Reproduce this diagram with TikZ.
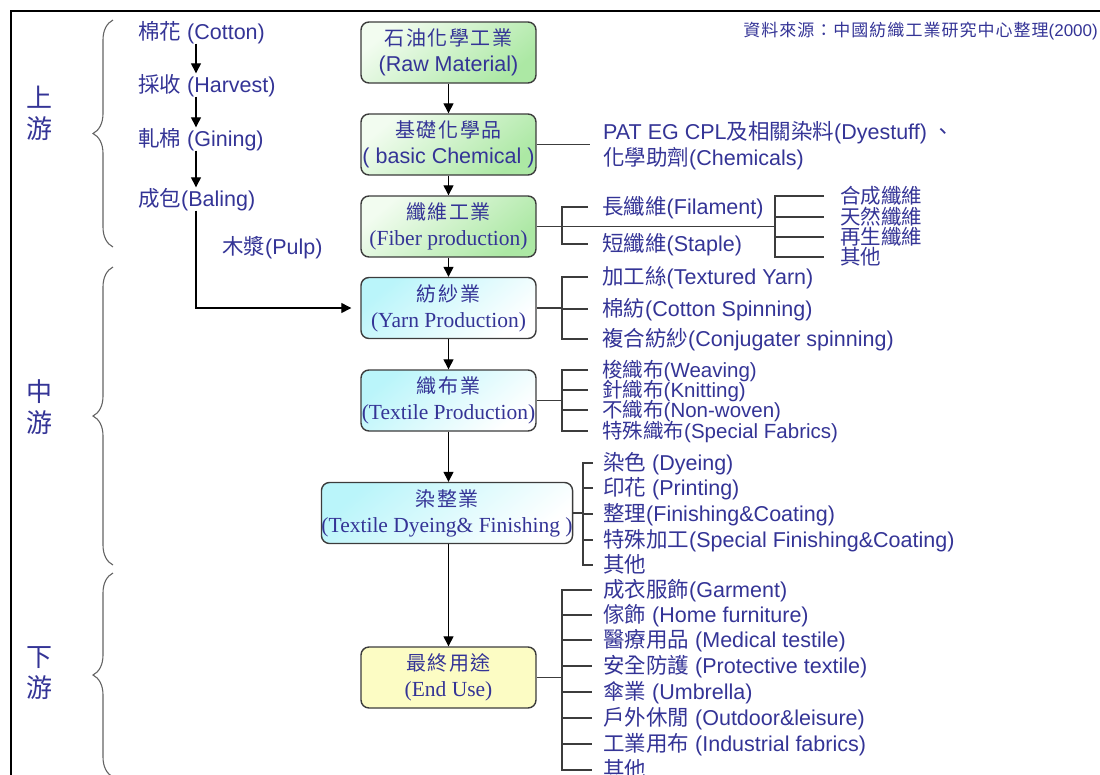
\documentclass[tikz,border=0pt]{standalone}
\usepackage{fontspec}
\setmainfont{Liberation Sans}
\newfontfamily\cjk{Noto Sans CJK TC}
\newfontfamily\cjkwide[LetterSpace=8]{Noto Sans CJK TC}
\newfontfamily\cjknote[LetterSpace=6]{Noto Sans CJK TC}
\newfontfamily\serifen{Liberation Serif}
\usetikzlibrary{arrows.meta,decorations.pathreplacing,calc}

\definecolor{ink}{RGB}{52,52,150}
\definecolor{wirecol}{RGB}{60,60,60}
\definecolor{bracecol}{RGB}{100,100,100}
\definecolor{greenlo}{RGB}{172,232,164}
\definecolor{greenhi}{RGB}{242,252,240}
\definecolor{cyanhi}{RGB}{186,245,250}
\definecolor{yellowfill}{RGB}{252,252,196}

\newcommand\zh[1]{{\cjk #1}}
\newcommand\zhw[1]{{\cjkwide\fontsize{20}{26}\selectfont #1}}

\begin{document}
\begin{tikzpicture}[x=1pt,y=-1pt,
  every node/.style={text=ink, inner sep=0pt, font=\fontsize{21.5}{26}\selectfont},
  item/.style={anchor=west, text height=19pt, text depth=4pt},
  tight/.style={anchor=west, text height=16.5pt, text depth=1.5pt, font=\fontsize{20.5}{24}\selectfont},
  stage/.style={draw=wirecol, line width=1.4pt, rounded corners=8pt,
    minimum width=175pt, minimum height=61pt, align=center},
  greenbox/.style={stage, top color=greenhi, bottom color=greenlo, shading angle=40},
  cyanbox/.style={stage, top color=cyanhi, bottom color=white, shading angle=40},
  yellowbox/.style={stage, fill=yellowfill},
  arr/.style={draw=black, line width=1.3pt, -{Triangle[width=10pt,length=10pt]}},
  link/.style={draw=wirecol, line width=1.3pt},
  bracebar/.style={draw=bracecol, line width=1.1pt, decorate,
    decoration={brace, amplitude=20pt}},
  stagelabel/.style={align=center, font=\cjk\fontsize{26}{31}\selectfont},
]
\useasboundingbox (0,0) rectangle (1100,774);

% frame
\draw[line width=2.4pt, line cap=rect] (11,774) -- (11,11) -- (1100,11);

% source note
\node[anchor=east, font=\fontsize{17}{20}\selectfont] (source) at (1098,31)
  {{\cjknote 資料來源：中國紡織工業研究中心整理}(2000)};

% stage braces and labels
\draw[bracebar] (113,247) -- (113,20);
\draw[bracebar] (113,565) -- (113,267);
\draw[bracebar] (113,777) -- (113,573);
\node[stagelabel] (up)   at (39,113) {上\\游};
\node[stagelabel] (mid)  at (40,407) {中\\游};
\node[stagelabel] (down) at (40,673) {下\\游};

% cotton chain
\coordinate (ax) at (196,0);
\node[item] (cotton)  at (138,32)  {\zh{棉花} (Cotton)};
\node[item] (harvest) at (138,85)  {\zh{採收} (Harvest)};
\node[item] (gin)     at (138,139) {\zh{軋棉} (Gining)};
\node[item] (bale)    at (138,199) {\zh{成包}(Baling)};
\node[item] (pulp)    at (222,247) {\zh{木漿}(Pulp)};

% main chain
\node[greenbox] (raw)   at (448.5,52.5)  {\zhw{石油化學工業}\\(Raw Material)};
\node[greenbox] (chem)  at (448.5,144.5) {\zhw{基礎化學品}\\( basic Chemical )};
\node[greenbox] (fiber) at (448.5,226.5) {\zhw{纖維工業}\\{\serifen (Fiber production)}};
\node[cyanbox]  (yarn)  at (448.5,308)   {\zhw{紡紗業}\\{\serifen (Yarn Production)}};
\node[cyanbox]  (weave) at (448.5,400.5) {\zhw{織布業}\\{\serifen (Textile Production)}};
\node[cyanbox, minimum width=248pt] (dye) at (447,513)
  {\zhw{染整業}\\{\serifen (Textile Dyeing\& Finishing )}};
\node[yellowbox] (enduse) at (448.5,677.5) {\zhw{最終用途}\\{\serifen (End Use)}};

\draw[arr] (cotton.south -| ax) -- (harvest.north -| ax);
\draw[arr] (harvest.south -| ax) -- (gin.north -| ax);
\draw[arr] (gin.south -| ax) -- (bale.north -| ax);
\draw[arr, shorten >=9pt] (bale.south -| ax) |- (yarn.west);

\draw[arr] (raw) -- (chem);
\draw[arr] (chem) -- (fiber);
\draw[arr] (fiber) -- (yarn);
\draw[arr] (yarn) -- (weave);
\draw[arr] (weave.south) -- (weave.south |- dye.north);
\draw[arr] (dye.south -| weave.south) -- (enduse.north);

% basic chemicals
\node[item] (pat) at (603,132) {PAT EG CPL\zh{及相關染料}(Dyestuff) \zh{、}};
\node[item] (aux) at (603,158) {\zh{化學助劑}(Chemicals)};
\draw[link, shorten >=13pt] (chem.east) -- (chem.east -| pat.west);

% fibres
\coordinate (fa) at (562,0);
\coordinate (fb) at (775,0);
\node[item] (filament) at (602,207) {\zh{長纖維}(Filament)};
\node[item] (staple)   at (602,244) {\zh{短纖維}(Staple)};
\node[tight, font=\cjk\fontsize{20.5}{24}\selectfont] (synth)   at (840,196) {合成纖維};
\node[tight, font=\cjk\fontsize{20.5}{24}\selectfont] (natural) at (840,217) {天然纖維};
\node[tight, font=\cjk\fontsize{20.5}{24}\selectfont] (regen)   at (840,237) {再生纖維};
\node[tight, font=\cjk\fontsize{20.5}{24}\selectfont] (fother)  at (840,257) {其他};
\draw[link] (fiber.east) -- (fiber.east -| fb);
\draw[link] ([xshift=-14pt]filament.west) -| (fa |- staple.west) -- ([xshift=-14pt]staple.west);
\draw[link] ([xshift=-16pt]synth.west) -| (fb |- fother.west) -- ([xshift=-16pt]fother.west);
\draw[link] (fb |- natural.west) -- ([xshift=-16pt]natural.west);
\draw[link] (fb |- regen.west) -- ([xshift=-16pt]regen.west);

% yarn
\node[item] (textured) at (602,277) {\zh{加工絲}(Textured Yarn)};
\node[item] (cspin)    at (602,309) {\zh{棉紡}(Cotton Spinning)};
\node[item] (conj)     at (602,339) {\zh{複合紡紗}(Conjugater spinning)};
\draw[link] (yarn.east) -- (yarn.east -| fa);
\draw[link] ([xshift=-14pt]textured.west) -| (fa |- conj.west) -- ([xshift=-14pt]conj.west);
\draw[link] (fa |- cspin.west) -- ([xshift=-14pt]cspin.west);

% fabrics
\node[tight] (woven)   at (602,370) {\zh{梭織布}(Weaving)};
\node[tight] (knit)    at (602,390) {\zh{針織布}(Knitting)};
\node[tight] (nonwov)  at (602,410) {\zh{不織布}(Non-woven)};
\node[tight] (special) at (602,431) {\zh{特殊織布}(Special Fabrics)};
\draw[link] (weave.east) -- (weave.east -| fa);
\draw[link] ([xshift=-14pt]woven.west) -| (fa |- special.west) -- ([xshift=-14pt]special.west);
\draw[link] (fa |- knit.west) -- ([xshift=-14pt]knit.west);
\draw[link] (fa |- nonwov.west) -- ([xshift=-14pt]nonwov.west);

% dyeing and finishing
\coordinate (fd) at (583,0);
\node[item] (dyeing) at (603,463) {\zh{染色} (Dyeing)};
\node[item] (print)  at (603,488) {\zh{印花} (Printing)};
\node[item] (finish) at (603,514) {\zh{整理}(Finishing\&Coating)};
\node[item] (spfin)  at (603,540) {\zh{特殊加工}(Special Finishing\&Coating)};
\node[item] (dother) at (603,565) {\zh{其他}};
\draw[link] (dye.east) -- (dye.east -| fd);
\draw[link] ([xshift=-10pt]dyeing.west) -| (fd |- dother.west) -- ([xshift=-10pt]dother.west);
\draw[link] (fd |- print.west) -- ([xshift=-10pt]print.west);
\draw[link] (fd |- finish.west) -- ([xshift=-10pt]finish.west);
\draw[link] (fd |- spfin.west) -- ([xshift=-10pt]spfin.west);

% end uses
\node[item] (garment)  at (603,590) {\zh{成衣服飾}(Garment)};
\node[item] (home)     at (603,615) {\zh{傢飾} (Home furniture)};
\node[item] (medical)  at (603,640) {\zh{醫療用品} (Medical testile)};
\node[item] (protect)  at (603,666) {\zh{安全防護} (Protective textile)};
\node[item] (umbrella) at (603,692) {\zh{傘業} (Umbrella)};
\node[item] (outdoor)  at (603,718) {\zh{戶外休閒} (Outdoor\&leisure)};
\node[item] (industry) at (603,744) {\zh{工業用布} (Industrial fabrics)};
\node[item] (eother)   at (603,770) {\zh{其他}};
\draw[link] (enduse.east) -- (enduse.east -| fa);
\draw[link] ([xshift=-11pt]garment.west) -| (fa |- eother.west) -- ([xshift=-11pt]eother.west);
\foreach \n in {home,medical,protect,umbrella,outdoor,industry}
  \draw[link] (fa |- \n.west) -- ([xshift=-11pt]\n.west);
\end{tikzpicture}
\end{document}
